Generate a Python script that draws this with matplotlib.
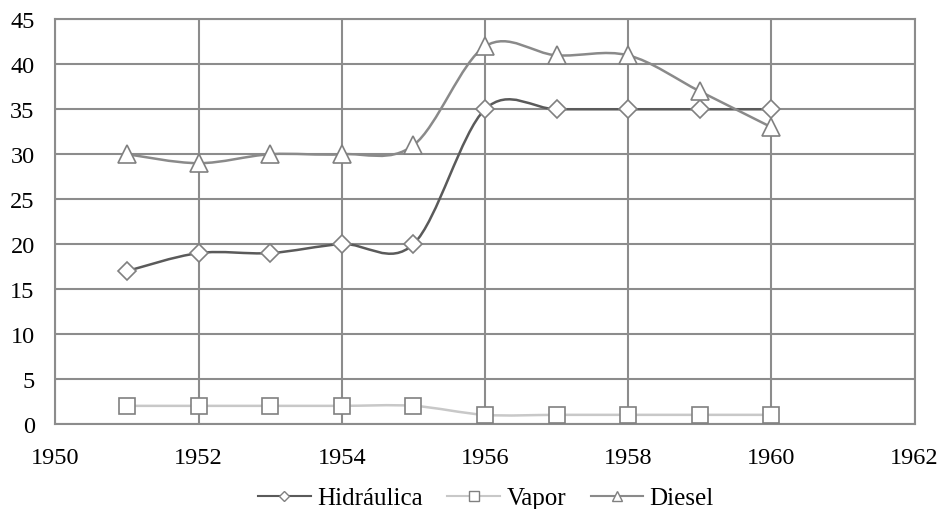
import numpy as np
import matplotlib.pyplot as plt
from matplotlib.path import Path
from matplotlib.patches import PathPatch
from matplotlib.lines import Line2D

plt.rcParams['font.family'] = ['Liberation Serif', 'DejaVu Serif']

# datos
years = [1951, 1952, 1953, 1954, 1955, 1956, 1957, 1958, 1959, 1960]
hidraulica = [17, 19, 19, 20, 20, 35, 35, 35, 35, 35]
vapor = [2, 2, 2, 2, 2, 1, 1, 1, 1, 1]
diesel = [30, 29, 30, 30, 31, 42, 41, 41, 37, 33]

series = [
    ('Hidráulica', hidraulica, '#5a5a5a', 'D', 9),
    ('Vapor', vapor, '#c8c8c8', 's', 12),
    ('Diesel', diesel, '#8a8a8a', '^', 13),
]


def smooth_path(x, y):
    # curva bezier tipo Excel (Catmull-Rom)
    pts = np.column_stack([x, y]).astype(float)
    n = len(pts)
    verts = [pts[0]]
    codes = [Path.MOVETO]
    for i in range(n - 1):
        p0 = pts[i - 1] if i > 0 else pts[i]
        p1 = pts[i]
        p2 = pts[i + 1]
        p3 = pts[i + 2] if i + 2 < n else pts[i + 1]
        c1 = p1 + (p2 - p0) / 6
        c2 = p2 - (p3 - p1) / 6
        verts += [c1, c2, p2]
        codes += [Path.CURVE4] * 3
    return Path(verts, codes)


fig, ax = plt.subplots(figsize=(9.4, 5.1), dpi=100)
fig.subplots_adjust(left=0.059, right=0.973, top=0.96, bottom=0.167)

handles = []
for name, vals, col, mk, ms in series:
    ax.add_patch(PathPatch(smooth_path(years, vals), facecolor='none',
                           edgecolor=col, lw=1.8, zorder=3))
    ax.plot(years, vals, linestyle='none', marker=mk, ms=ms,
            mfc='white', mec='#808080', mew=1.2, zorder=4)
    handles.append(Line2D([], [], color=col, lw=1.5, marker=mk, ms=ms * 0.6,
                          mfc='white', mec='#808080', mew=1.0))

ax.set_xlim(1950, 1962)
ax.set_ylim(0, 45)
ax.set_xticks(range(1950, 1963, 2))
ax.set_yticks(range(0, 46, 5))
ax.grid(True, color='#8c8c8c', lw=1.5)
ax.set_axisbelow(True)
for s in ax.spines.values():
    s.set_color('#8c8c8c')
    s.set_linewidth(1.5)
ax.tick_params(axis='y', length=0, labelsize=17.5, pad=15)
ax.tick_params(axis='x', length=0, labelsize=17.5, pad=17)

fig.legend(handles, [s[0] for s in series], loc='lower center', ncol=3,
           frameon=False, fontsize=18, handlelength=2.1, columnspacing=1.0,
           handletextpad=0.25, bbox_to_anchor=(0.517, -0.045))

fig.savefig('out.png', dpi=100)
